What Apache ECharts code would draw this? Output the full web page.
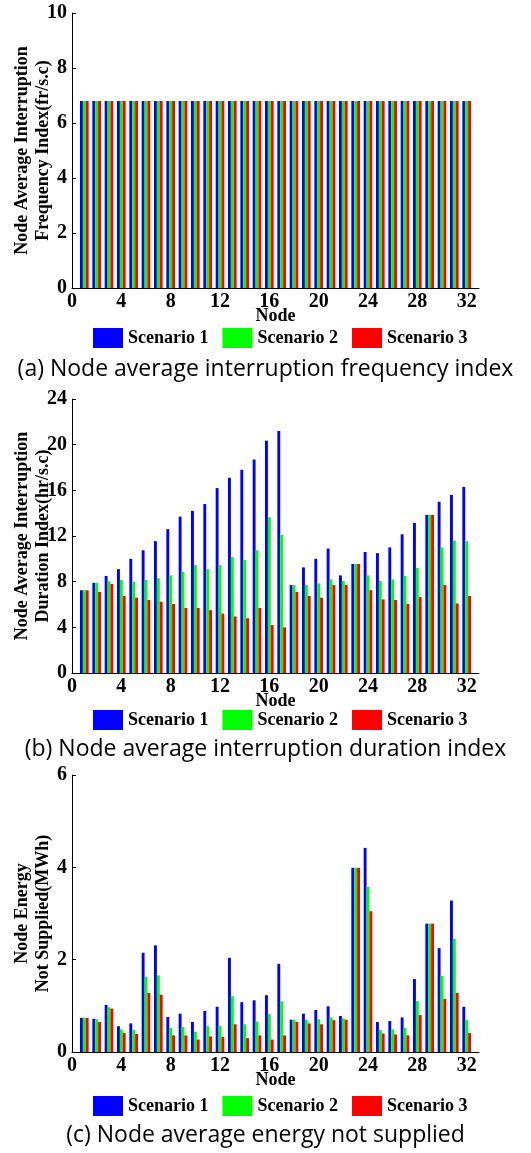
<!DOCTYPE html>
<html>
<head>
<meta charset="utf-8">
<script src="https://cdn.jsdelivr.net/npm/echarts@6/dist/echarts.min.js"></script>
<style>
  html, body { margin: 0; padding: 0; background: #fff; }
  #chart { width: 531px; height: 1153px; }
</style>
</head>
<body>
<div id="chart"></div>
<script>
// node numbers on the x axis
var nodes = [1,2,3,4,5,6,7,8,9,10,11,12,13,14,15,16,17,18,19,20,21,22,23,24,25,26,27,28,29,30,31,32];
var xTicks = [0,4,8,12,16,20,24,28,32];
var scenarioNames = ['Scenario 1', 'Scenario 2', 'Scenario 3'];

// (a) node average interruption frequency index (fr/s.c)
var freqS1 = [6.8,6.8,6.8,6.8,6.8,6.8,6.8,6.8,6.8,6.8,6.8,6.8,6.8,6.8,6.8,6.8,6.8,6.8,6.8,6.8,6.8,6.8,6.8,6.8,6.8,6.8,6.8,6.8,6.8,6.8,6.8,6.8];
var freqS2 = [6.8,6.8,6.8,6.8,6.8,6.8,6.8,6.8,6.8,6.8,6.8,6.8,6.8,6.8,6.8,6.8,6.8,6.8,6.8,6.8,6.8,6.8,6.8,6.8,6.8,6.8,6.8,6.8,6.8,6.8,6.8,6.8];
var freqS3 = [6.8,6.8,6.8,6.8,6.8,6.8,6.8,6.8,6.8,6.8,6.8,6.8,6.8,6.8,6.8,6.8,6.8,6.8,6.8,6.8,6.8,6.8,6.8,6.8,6.8,6.8,6.8,6.8,6.8,6.8,6.8,6.8];

// (b) node average interruption duration index (hr/s.c)
var durS1 = [7.25,7.9,8.5,9.1,10.0,10.75,11.55,12.6,13.7,14.2,14.8,16.2,17.1,17.8,18.7,20.35,21.2,7.7,9.25,10.0,10.9,8.55,9.55,10.6,10.5,11.0,12.15,13.15,13.85,15.0,15.6,16.3];
var durS2 = [7.25,7.9,8.05,8.15,8.0,8.15,8.3,8.55,8.85,9.45,9.1,9.45,10.15,9.9,10.75,13.65,12.1,7.7,7.7,7.85,8.2,8.05,9.55,8.55,8.05,8.2,8.5,9.2,13.85,11.0,11.6,11.55];
var durS3 = [7.25,7.1,7.8,6.75,6.6,6.4,6.25,6.05,5.7,5.7,5.5,5.2,4.95,4.8,5.7,4.2,4.0,7.1,6.75,6.6,7.7,7.7,9.55,7.25,6.45,6.4,6.05,6.65,13.85,7.7,6.1,6.75];

// (c) node energy not supplied (MWh)
var ensS1 = [0.74,0.72,1.02,0.56,0.62,2.15,2.31,0.76,0.83,0.65,0.89,0.98,2.04,1.08,1.12,1.23,1.91,0.7,0.83,0.91,0.99,0.78,3.99,4.42,0.65,0.67,0.75,1.58,2.78,2.25,3.28,0.98];
var ensS2 = [0.74,0.71,0.97,0.49,0.48,1.63,1.66,0.52,0.54,0.44,0.56,0.57,1.21,0.6,0.66,0.82,1.1,0.7,0.7,0.71,0.75,0.73,3.99,3.58,0.48,0.49,0.52,1.1,2.78,1.65,2.45,0.7];
var ensS3 = [0.74,0.65,0.94,0.41,0.39,1.28,1.24,0.36,0.36,0.27,0.34,0.33,0.6,0.3,0.36,0.27,0.36,0.65,0.62,0.6,0.69,0.7,3.99,3.05,0.4,0.38,0.36,0.8,2.78,1.15,1.28,0.41];

var colors = ['#0000ff', '#00ff00', '#ff0000'];
var serif = 'Liberation Serif';

// panel layout: top of plot area and its height
var panels = [
  { top: 13, height: 275, max: 10, interval: 2, yName: 'Node Average Interruption\nFrequency Index(fr/s.c)', data: [freqS1, freqS2, freqS3], legendTop: 328, caption: '(a) Node average interruption frequency index', captionTop: 358 },
  { top: 399, height: 274, max: 24, interval: 4, yName: 'Node Average Interruption\nDuration Index(hr/s.c)', data: [durS1, durS2, durS3], legendTop: 710, caption: '(b) Node average interruption duration index', captionTop: 738 },
  { top: 775, height: 277, max: 6, interval: 2, yName: 'Node Energy\nNot Supplied(MWh)', data: [ensS1, ensS2, ensS3], legendTop: 1096, caption: '(c) Node average energy not supplied', captionTop: 1124 }
];

function pairs(arr) {
  return nodes.map(function (n, i) { return [n, arr[i]]; });
}

var grid = [], xAxis = [], yAxis = [], series = [], legend = [], title = [];
panels.forEach(function (p, k) {
  grid.push({ left: 72, right: 52, top: p.top, height: p.height, outerBoundsMode: 'none', containLabel: false });
  xAxis.push({
    gridIndex: k, type: 'value', min: 0, max: 33,
    name: 'Node', nameLocation: 'middle', nameGap: 19, nameMoveOverlap: false,
    nameTextStyle: { fontFamily: serif, fontWeight: 'bold', fontSize: 18, color: '#000' },
    axisLine: { lineStyle: { color: '#000', width: 1 } },
    axisTick: { inside: true, length: 4, customValues: xTicks, lineStyle: { color: '#000' } },
    axisLabel: { customValues: xTicks, margin: 4, fontFamily: serif, fontWeight: 'bold', fontSize: 20, color: '#000' },
    splitLine: { show: false }
  });
  yAxis.push({
    gridIndex: k, type: 'value', min: 0, max: p.max, interval: p.interval,
    name: p.yName, nameLocation: 'middle', nameRotate: 90, nameGap: 18, nameMoveOverlap: false,
    nameTextStyle: { fontFamily: serif, fontWeight: 'bold', fontSize: 18, lineHeight: 21, color: '#000' },
    axisLine: { show: true, lineStyle: { color: '#000', width: 1 } },
    axisTick: { show: true, inside: true, length: 4, lineStyle: { color: '#000' } },
    axisLabel: { margin: 5, fontFamily: serif, fontWeight: 'bold', fontSize: 20, color: '#000' },
    splitLine: { show: false }
  });
  p.data.forEach(function (arr, s) {
    series.push({
      name: scenarioNames[s], type: 'bar', xAxisIndex: k, yAxisIndex: k,
      data: pairs(arr), barGap: '0%', barCategoryGap: '30%',
      itemStyle: { color: colors[s] }
    });
  });
  legend.push({
    data: scenarioNames, left: 93, top: p.legendTop, icon: 'rect', padding: 0,
    itemWidth: 30, itemHeight: 20, itemGap: 14,
    textStyle: { fontFamily: serif, fontWeight: 'bold', fontSize: 18, color: '#000' }
  });
  title.push({
    text: p.caption, left: 'center', top: p.captionTop, padding: 0,
    textStyle: { fontFamily: 'Open Sans', fontWeight: 'normal', fontSize: 23, color: '#000' }
  });
});

var myChart = echarts.init(document.getElementById('chart'));
myChart.setOption({
  animation: false,
  color: colors,
  title: title,
  legend: legend,
  grid: grid,
  xAxis: xAxis,
  yAxis: yAxis,
  series: series
});
</script>
</body>
</html>
